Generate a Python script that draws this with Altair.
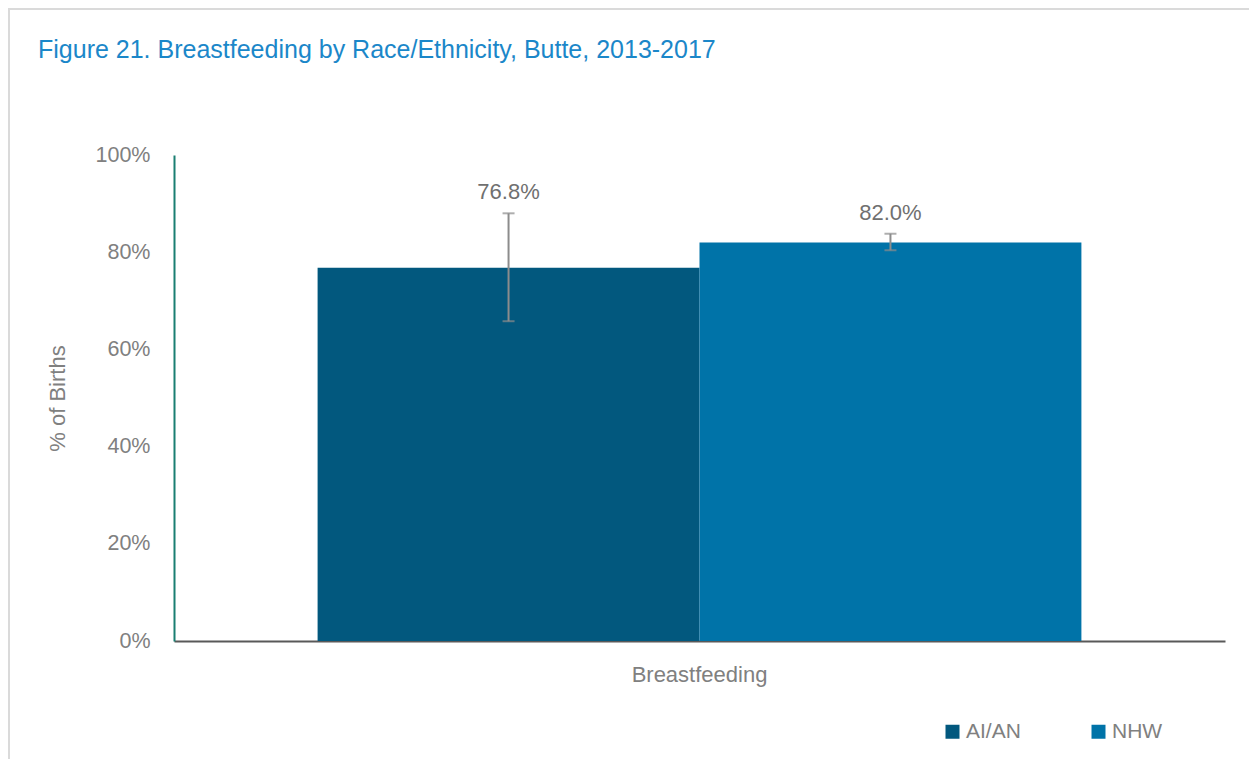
import altair as alt
import pandas as pd

groups = ["AI/AN", "NHW"]
category = ["Breastfeeding", "Breastfeeding"]
values = [76.8, 82.0]
lower = [65.8, 80.4]
upper = [88.0, 83.8]
labels = ["76.8%", "82.0%"]
colors = ["#02587E", "#0073A8"]
title_text = ["Figure 21. Breastfeeding by Race/Ethnicity, Butte, 2013-2017"]

df = pd.DataFrame({
    "group": groups,
    "cat": category,
    "value": values,
    "lower": lower,
    "upper": upper,
    "label": labels,
})
title_df = pd.DataFrame({"t": title_text})

FONT = "Liberation Sans, Arial, Helvetica, sans-serif"
GRAY = "#808080"

x_enc = alt.X("cat:N", title=None,
              scale=alt.Scale(paddingInner=0, paddingOuter=0.188),
              axis=alt.Axis(labelAngle=0, labelFontSize=22, labelColor=GRAY,
                            labelFont=FONT, labelPadding=23, ticks=False,
                            domainColor="#595959", domainWidth=2))
xoff = alt.XOffset("group:N", scale=alt.Scale(domain=groups, paddingInner=0, paddingOuter=0))
y_scale = alt.Scale(domain=[0, 100])

bars = alt.Chart(df).mark_bar().encode(
    x=x_enc,
    xOffset=xoff,
    y=alt.Y("value:Q", scale=y_scale, title="% of Births",
            axis=alt.Axis(values=[0, 20, 40, 60, 80, 100], labelExpr="datum.value + '%'",
                          grid=False, ticks=False, labelFontSize=21.5, labelColor=GRAY,
                          labelFont=FONT, labelPadding=24,
                          titleFont=FONT, titleFontSize=22, titleColor=GRAY,
                          titleFontWeight="normal", titlePadding=26,
                          domainColor="#1A7F72", domainWidth=2)),
    color=alt.Color("group:N", scale=alt.Scale(domain=groups, range=colors),
                    legend=alt.Legend(title=None, orient="none", direction="horizontal",
                                      legendX=768, legendY=566, symbolType="square",
                                      symbolSize=196, symbolStrokeWidth=0,
                                      labelFontSize=21, labelColor=GRAY, labelFont=FONT,
                                      columnPadding=67, labelOffset=3, padding=0)),
)

rules = alt.Chart(df).mark_rule(color="#8C8C8C", strokeWidth=2).encode(
    x="cat:N", xOffset=xoff, y=alt.Y("lower:Q", scale=y_scale), y2="upper:Q")

caps_hi = alt.Chart(df).mark_tick(color="#8C8C8C", thickness=2, size=12, orient="horizontal").encode(
    x="cat:N", xOffset=xoff, y=alt.Y("upper:Q", scale=y_scale))
caps_lo = alt.Chart(df).mark_tick(color="#8C8C8C", thickness=2, size=12, orient="horizontal").encode(
    x="cat:N", xOffset=xoff, y=alt.Y("lower:Q", scale=y_scale))

text = alt.Chart(df).mark_text(font=FONT, fontSize=22, color="#707070", baseline="bottom", dy=-9).encode(
    x="cat:N", xOffset=xoff, y=alt.Y("upper:Q", scale=y_scale), text="label:N")

title = alt.Chart(title_df).mark_text(font=FONT, fontSize=25, color="#1B87C9", align="left",
                                      baseline="alphabetic").encode(
    x=alt.value(-136), y=alt.value(-97), text="t:N")

frame = alt.Chart(title_df).mark_rect(fill="#FFFFFF", fillOpacity=0, stroke="#DADADA", strokeWidth=2).encode(
    x=alt.value(-165), x2=alt.value(1200), y=alt.value(-146), y2=alt.value(700))

chart = alt.layer(frame, bars, rules, caps_hi, caps_lo, text, title).properties(
    width=1051, height=486,
    autosize=alt.AutoSizeParams(type="none"),
    padding={"left": 166, "top": 147, "right": 24, "bottom": 118},
).configure_view(stroke=None).configure_axis(domainCap="butt")

chart.save("out.html", embed_options={"renderer": "svg", "actions": False})
